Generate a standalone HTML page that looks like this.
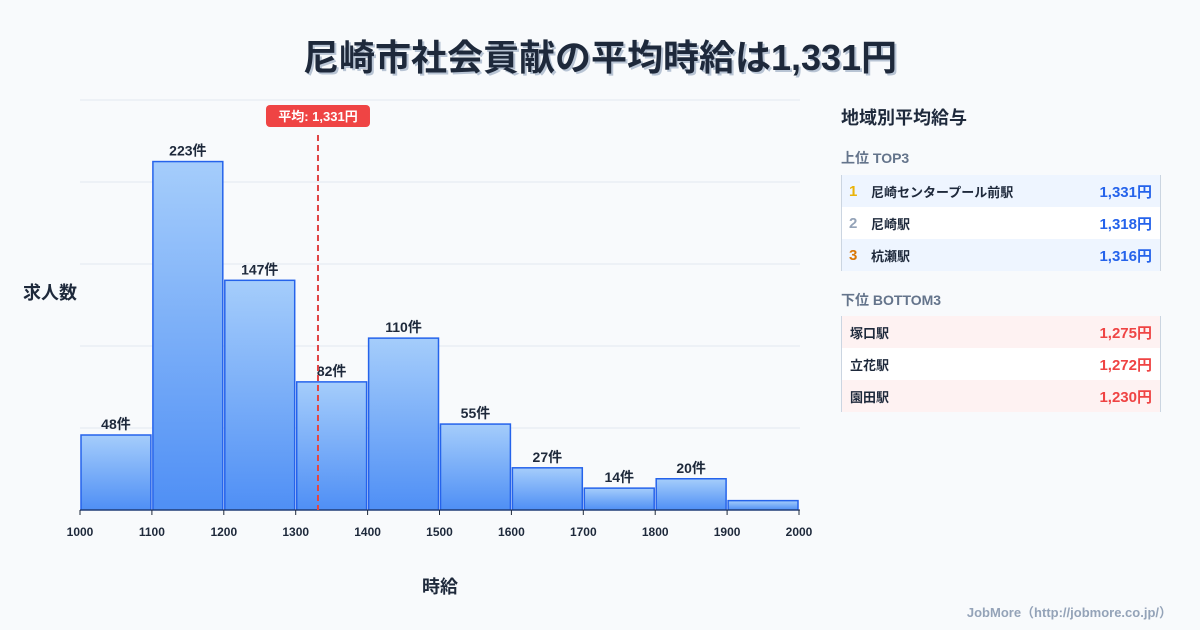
<!DOCTYPE html>
<html><head><meta charset="utf-8"><style>
body{margin:0;width:1200px;height:630px;background:#f8fafc;font-family:"Liberation Sans","Noto Sans CJK JP",sans-serif;position:relative;overflow:hidden;color:#1e293b}
.title{position:absolute;top:29px;left:0;width:1200px;text-align:center;font-size:36px;font-weight:700;color:#1e293b;text-shadow:2px 2px 0 #b8c4d4}
.side{position:absolute;left:841px;top:100px;width:320px}
.h{font-size:18px;font-weight:700;position:absolute;left:0;top:4px}
.sub{font-size:14px;font-weight:700;color:#64748b;position:absolute;left:0}
.tbl{position:absolute;left:0;width:318px;border-left:1px solid #cbd5e1;border-right:1px solid #cbd5e1}
.row{height:32px;display:flex;align-items:center;font-size:13px;font-weight:700;position:relative}
.row .v{position:absolute;right:8px;font-size:15px}
.rk{width:22px;padding-left:7px;font-size:15px}
.foot{position:absolute;right:28px;top:602px;font-size:13px;color:#94a3b8;font-weight:700}
</style></head><body>
<div class="title">尼崎市社会貢献の平均時給は1,331円</div>
<svg id="chart" width="820" height="630" style="position:absolute;left:0;top:0">
<defs><linearGradient id="g" x1="0" y1="0" x2="0" y2="1"><stop offset="0" stop-color="#a5cdfb"/><stop offset="1" stop-color="#4f8ff5"/></linearGradient></defs>
<g id="grid"></g><g id="bars"></g><g id="ticks"></g>
<text x="50" y="299" font-size="18" font-weight="700" text-anchor="middle" fill="#1e293b">求人数</text>
<text x="440" y="593" font-size="18" font-weight="700" text-anchor="middle" fill="#1e293b">時給</text>
</svg>
<div class="side">
<div class="h">地域別平均給与</div>
<div class="sub" style="top:48px">上位 TOP3</div>
<div class="tbl" style="top:75px">
<div class="row" style="background:#eef5ff"><span class="rk" style="color:#eab308">1</span>尼崎センタープール前駅<span class="v" style="color:#2563eb">1,331円</span></div>
<div class="row" style="background:#fff"><span class="rk" style="color:#94a3b8">2</span>尼崎駅<span class="v" style="color:#2563eb">1,318円</span></div>
<div class="row" style="background:#eef5ff"><span class="rk" style="color:#d97706">3</span>杭瀬駅<span class="v" style="color:#2563eb">1,316円</span></div>
</div>
<div class="sub" style="top:190px">下位 BOTTOM3</div>
<div class="tbl" style="top:216px">
<div class="row" style="background:#fef2f2;padding-left:8px">塚口駅<span class="v" style="color:#ef4444">1,275円</span></div>
<div class="row" style="background:#fff;padding-left:8px">立花駅<span class="v" style="color:#ef4444">1,272円</span></div>
<div class="row" style="background:#fef2f2;padding-left:8px">園田駅<span class="v" style="color:#ef4444">1,230円</span></div>
</div>
</div>
<div class="foot">JobMore（http://jobmore.co.jp/）</div>
<script>
const binStarts=[1000,1100,1200,1300,1400,1500,1600,1700,1800,1900];
const counts=[48,223,147,82,110,55,27,14,20,6];
const showLabel=[true,true,true,true,true,true,true,true,true,false];
const xTicks=[1000,1100,1200,1300,1400,1500,1600,1700,1800,1900,2000];
const avg=1331;
const yMax=262.4, gridCount=5;
const NS="http://www.w3.org/2000/svg";
const X=v=>80+(v-1000)*719/1000;
const Y=v=>510-v*410/yMax;
function mk(t,a,p){const e=document.createElementNS(NS,t);for(const k in a)e.setAttribute(k,a[k]);p.appendChild(e);return e;}
const grid=document.getElementById('grid'),bars=document.getElementById('bars'),ticks=document.getElementById('ticks');
for(let i=1;i<=gridCount;i++){const y=Y(yMax*i/gridCount);
const l=mk('line',{x1:80,x2:800,y1:y,y2:y,stroke:'#e2e8f0','stroke-width':1},grid);

}
binStarts.forEach((b,i)=>{
const x0=X(b),x1=X(b+100),y=Y(counts[i]);
const r=mk('rect',{x:x0+1,y:y,width:x1-x0-2,height:510-y,fill:'url(#g)',stroke:'#2563eb','stroke-width':1.5},bars);


if(showLabel[i]){const t=mk('text',{x:(x0+x1)/2,y:y-6,'text-anchor':'middle','font-size':14,'font-weight':700,fill:'#1e293b'},bars);t.textContent=counts[i]+'件';

}
});
mk('line',{x1:80,x2:800,y1:510,y2:510,stroke:'#1e293b','stroke-width':1},ticks);
xTicks.forEach(v=>{mk('line',{x1:X(v),x2:X(v),y1:510,y2:515,stroke:'#1e293b'},ticks);
const t=mk('text',{x:X(v),y:536,'text-anchor':'middle','font-size':12,'font-weight':700,fill:'#1e293b'},ticks);t.textContent=v;

});
const ax=X(avg);
const al=mk('line',{x1:ax,x2:ax,y1:135,y2:510,stroke:'#e04545','stroke-width':2,'stroke-dasharray':'6,4'},ticks);


const bg=mk('rect',{x:ax-52,y:105,width:104,height:22,rx:4,fill:'#ef4444'},ticks);


const at=mk('text',{x:ax,y:121,'text-anchor':'middle','font-size':13,'font-weight':700,fill:'#fff'},ticks);
at.textContent='平均: '+avg.toLocaleString('en-US')+'円';


</script>
</body></html>
